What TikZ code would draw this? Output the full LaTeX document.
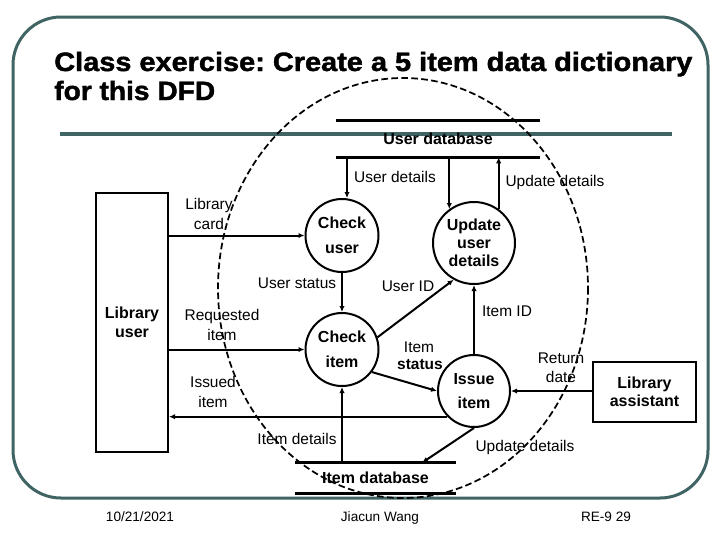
\documentclass[tikz,border=0pt]{standalone}
\usepackage{fontspec}
\setmainfont{Liberation Sans}
\newfontfamily\titlefont{Liberation Sans}[UprightFont={* Bold}, FakeBold=1.6]
\usetikzlibrary{arrows.meta}
\definecolor{framec}{RGB}{64,100,100}
\frenchspacing
\tikzset{
  proc/.style={circle, draw, line width=1.5pt, inner sep=0pt, align=center,
    font=\bfseries\fontsize{12}{18.5}\selectfont},
  ent/.style={rectangle, draw, line width=1.5pt, inner sep=0pt, align=center,
    font=\bfseries\fontsize{12}{14}\selectfont},
  store/.style={rectangle, inner sep=0pt, font=\bfseries\fontsize{12}{14}\selectfont},
  dbline/.style={line width=2.25pt},
  lab/.style={inner sep=0pt, align=center, font=\fontsize{11.6}{14.5}\selectfont},
  flow/.style={line width=1.5pt, -{Latex[length=4.5pt,width=4pt]}},
  foot/.style={inner sep=0pt, anchor=base, font=\fontsize{10.2}{12}\selectfont},
}
\begin{document}
\begin{tikzpicture}[x=0.75pt,y=-0.75pt]
\useasboundingbox (0,0) rectangle (720,540);
% frame
\draw[framec, line width=2.25pt, rounded corners=36pt] (13,17) rectangle (708,498);
\draw[framec, line width=3pt] (60,134) -- (672,134);
% title
\node[anchor=base west, inner sep=0pt] (t1) at (54,71) {\scalebox{1.09}[1]{\titlefont\fontsize{19.9}{24}\selectfont Class exercise: Create a 5 item data dictionary}};
\node[anchor=base west, inner sep=0pt] (t2) at (54,100) {\scalebox{1.06}[1]{\titlefont\fontsize{19.9}{24}\selectfont for this DFD}};
% dashed boundary
\draw[line width=1.3pt, dash pattern=on 5pt off 2.5pt] (403,288) ellipse [x radius=185, y radius=210];
% data stores
\node[store, minimum width=153pt, minimum height=27pt] (userdb) at (438,139) {User database};
\draw[dbline] (userdb.north west) -- (userdb.north east);
\draw[dbline] (userdb.south west) -- (userdb.south east);
\node[store, minimum width=120.75pt, minimum height=22.5pt] (itemdb) at (375.5,478) {Item database};
\draw[dbline] (itemdb.north west) -- (itemdb.north east);
\draw[dbline] (itemdb.south west) -- (itemdb.south east);
% processes
\node[proc, minimum size=54.75pt] (checkuser) at (342,235.5) {Check\\user};
\node[proc, minimum size=54.75pt] (checkitem) at (342,349.5) {Check\\item};
\node[proc, minimum size=61.5pt, font=\bfseries\fontsize{12}{13.5}\selectfont] (update) at (474,243) {Update\\user\\details};
\node[proc, minimum size=54pt] (issue) at (474,391) {Issue\\item};
% entities
\node[ent, minimum width=54pt, minimum height=194.25pt, font=\bfseries\fontsize{12}{14.2}\selectfont] (libuser) at (132,322.5) {Library\\user};
\node[ent, minimum width=77.25pt, minimum height=45pt, font=\bfseries\fontsize{12}{13.8}\selectfont] (libasst) at (644.5,392) {Library\\assistant};
% flows
\draw[flow] (libuser.east |- checkuser.west) -- (checkuser.west);
\draw[flow] (libuser.east |- checkitem.west) -- (checkitem.west);
\draw[flow] (issue.224) -- (libuser.east |- issue.224);
\draw[flow] ([xshift=3.75pt]userdb.south -| checkuser.north) -- ([xshift=3.75pt]checkuser.north);
\draw[flow] (userdb.south -| update.126) -- (update.126);
\draw[flow] (update.54) -- (userdb.south -| update.54);
\draw[flow] (checkuser.south) -- (checkitem.north);
\draw[flow] (checkitem.19) -- (update.241);
\draw[flow] (issue.north) -- (update.south);
\draw[flow] (checkitem.-37) -- (issue.west);
\draw[flow] (libasst.west |- issue.east) -- (issue.east);
\draw[flow] (issue.south) -- ([xshift=34.9pt]itemdb.north);
\draw[flow] (checkitem.south |- itemdb.north) -- (checkitem.south);
% labels
\node[lab] (l1) at (209,214) {Library\\card};
\node[lab] (l2) at (222,325) {Requested\\item};
\node[lab] (l3) at (213,392) {Issued\\item};
\node[lab] (l4) at (297,283) {User status};
\node[lab] (l5) at (297,439) {Item details};
\node[lab] (l6) at (395,177) {User details};
\node[lab] (l7) at (555,182) {Update details};
\node[lab] (l8) at (408,286) {User ID};
\node[lab] (l9) at (507,311) {Item ID};
\node[lab] (l10) at (419,347) {Item};
\node[lab, font=\bfseries\fontsize{11.6}{14}\selectfont] (l11) at (420,365) {status};
\node[lab] (l12) at (561,368) {Return\\date};
\node[lab] (l13) at (525,447) {Update details};
% footer
\node[foot] (f1) at (140,521) {10/21/2021};
\node[foot] (f2) at (380,521) {Jiacun Wang};
\node[foot] (f3) at (606,521) {RE-9 29};
\end{tikzpicture}
\end{document}
